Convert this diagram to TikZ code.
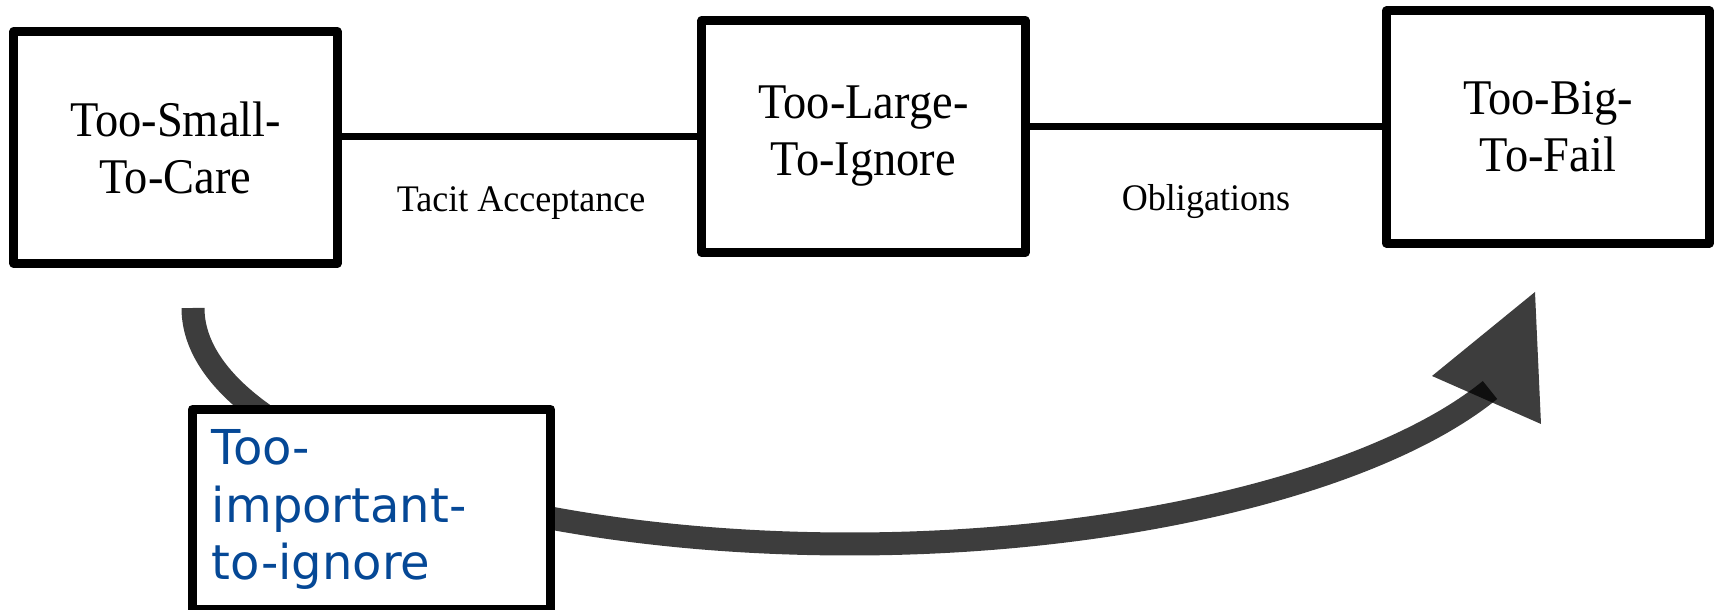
\documentclass[tikz,border=0pt]{standalone}
\usepackage{fontspec}
\setmainfont{Liberation Serif}
\newfontfamily\stagefont[FakeStretch=0.93]{Liberation Serif}
\newfontfamily\linkfont[FakeStretch=0.96]{Liberation Serif}
\newfontfamily\bluesans{DejaVu Sans}
\definecolor{labelblue}{RGB}{5,72,150}
\tikzset{
  stage/.style={draw=black, line width=2.56pt, fill=white, line join=round,
    minimum width=3.23cm, minimum height=2.32cm, inner sep=0pt, outer sep=0pt,
    align=center, font=\stagefont\fontsize{14.2pt}{16.22pt}\selectfont},
  link/.style={draw=black, line width=1.99pt},
  linklabel/.style={font=\linkfont\fontsize{10.67pt}{12pt}\selectfont, inner sep=0pt, anchor=base},
  sweep/.style={draw=black, draw opacity=0.76, line width=6.54pt},
  sweephead/.style={fill=black, fill opacity=0.76},
  notebox/.style={draw=black, line width=2.56pt, fill=white, line join=round,
    minimum width=3.58cm, minimum height=2.0cm, inner xsep=0.195cm, inner ysep=0pt,
    outer sep=0pt, text width=3.19cm, align=left, text=labelblue,
    font=\bluesans\fontsize{13.66pt}{16.36pt}\selectfont}
}
\begin{document}
\begin{tikzpicture}[x=0.01cm, y=-0.01cm]
  \useasboundingbox (0,0) rectangle (1717,610);

  % the three stages
  \node[stage] (small) at (175.5,147.5) {Too-Small-\\To-Care};
  \node[stage] (large) at (863.5,136.5) {Too-Large-\\To-Ignore};
  \node[stage] (big)   at (1548,127)    {Too-Big-\\To-Fail};

  % links between stages
  \draw[link] (large.west -| small.east) -- (large.west);
  \draw[link] (big.west -| large.east) -- (big.west);
  \node[linklabel] (tacit) at (521,212) {Tacit Acceptance};
  \node[linklabel] (oblig) at (1206,211) {Obligations};

  % sweeping arrow from the first stage towards the last one
  \coordinate (cstart) at (193,308);
  \coordinate (cbottom) at (850,544);
  \coordinate (cend) at (1490,390);
  \draw[sweep] (cstart) .. controls (193,438) and (487,544) .. (cbottom)
               .. controls (1126,544) and (1378,481) .. (cend);
  \coordinate (headA) at (1432,376);
  \coordinate (headB) at (1535,292);
  \coordinate (headC) at (1541,424);
  \fill[sweephead] (headA) -- (headB) -- (headC) -- cycle;

  % box sitting on the arrow
  \node[notebox] (important) at (371.5,509.5) {Too-\\important-\\to-ignore};
\end{tikzpicture}
\end{document}
